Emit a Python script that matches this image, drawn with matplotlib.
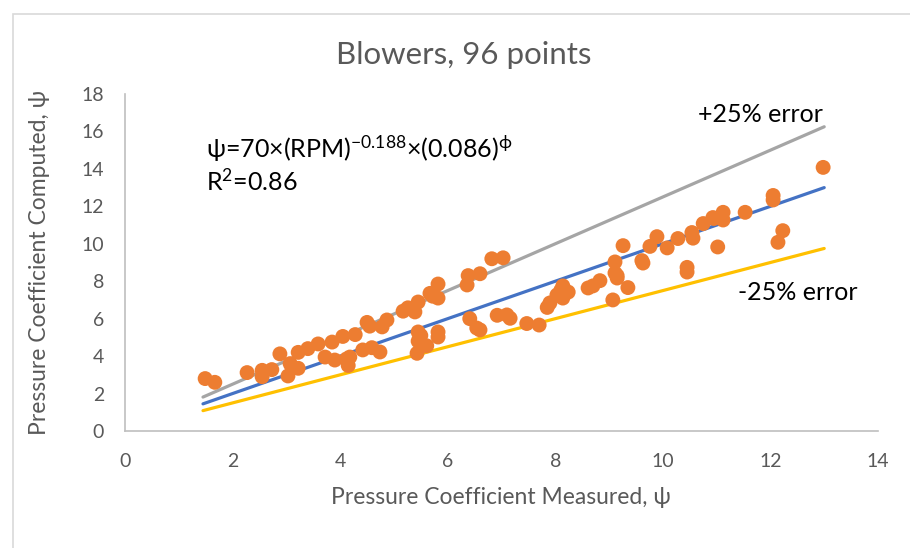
import matplotlib
matplotlib.use("Agg")
import matplotlib.pyplot as plt
from matplotlib.patches import Rectangle

plt.rcParams['font.family'] = ['Lato', 'DejaVu Sans']
plt.rcParams['mathtext.default'] = 'regular'

# measured vs computed pressure coefficient
psi_measured = [1.49, 1.67, 2.27, 2.55, 2.55, 2.73, 2.88, 3.03, 3.07, 3.22,
                3.22, 3.40, 3.59, 3.72, 3.85, 3.90, 4.05, 4.15, 4.18, 4.28,
                4.50, 4.42, 4.59, 4.74, 4.78, 4.87, 5.17, 5.26, 5.39, 5.45,
                5.45, 5.45, 5.61, 5.43, 5.82, 5.82, 5.67, 5.82, 5.82, 6.36,
                6.38, 6.60, 6.41, 6.54, 6.82, 7.03, 6.92, 7.10, 7.16, 7.47,
                7.70, 7.90, 8.03, 8.14, 8.14, 8.24, 8.61, 8.83, 9.07, 9.26,
                9.11, 9.11, 9.15, 9.35, 9.61, 9.63, 9.76, 9.89, 10.08, 10.28,
                10.45, 10.45, 10.54, 10.56, 10.75, 10.93, 11.02, 11.12, 11.12, 11.53,
                12.05, 12.05, 12.23, 12.14, 12.98, 4.55, 6.60, 5.72, 7.85, 8.10,
                8.70, 4.12, 3.10, 5.50, 9.15, 10.95]
psi_computed = [2.80, 2.60, 3.12, 3.24, 2.90, 3.28, 4.12, 2.94, 3.60, 3.35,
                4.20, 4.40, 4.65, 3.95, 4.75, 3.79, 5.05, 3.50, 3.95, 5.15,
                5.80, 4.33, 4.45, 4.22, 5.56, 5.93, 6.40, 6.58, 6.36, 6.89,
                5.29, 4.80, 4.55, 4.15, 5.29, 5.02, 7.35, 7.85, 7.10, 7.80,
                8.30, 8.40, 6.00, 5.50, 9.20, 9.25, 6.18, 6.20, 6.02, 5.74,
                5.66, 6.84, 7.26, 7.75, 7.10, 7.42, 7.64, 8.03, 7.00, 9.90,
                9.03, 8.44, 8.17, 7.66, 9.10, 8.97, 9.86, 10.38, 9.78, 10.28,
                8.74, 8.49, 10.60, 10.30, 11.08, 11.40, 9.83, 11.68, 11.27, 11.68,
                12.58, 12.34, 10.70, 10.08, 14.08, 5.60, 5.40, 7.20, 6.60, 7.50,
                7.75, 3.85, 3.45, 5.10, 8.30, 11.35]

line_x = [1.45, 13.0]
line_ratio = {'+25%': 1.25, 'fit': 1.0, '-25%': 0.75}
line_color = {'+25%': '#A5A5A5', 'fit': '#4472C4', '-25%': '#FFC000'}

fig = plt.figure(figsize=(9.1, 5.48), dpi=100)
ax = fig.add_axes([125 / 910, 1 - 431 / 548, 753 / 910, 337 / 548])

# outer chart border
fig.patches.append(Rectangle((13 / 910, -0.1), 1.2, 1 - 14 / 548 + 0.1,
                             transform=fig.transFigure, fill=False,
                             edgecolor='#D9D9D9', linewidth=1.2))

for key in ['+25%', 'fit', '-25%']:
    r = line_ratio[key]
    ax.plot(line_x, [v * r for v in line_x], color=line_color[key], lw=2.3,
            solid_capstyle='round', zorder=2)

ax.scatter(psi_measured, psi_computed, s=115, color='#ED7D31', edgecolors='none',
           zorder=3)

ax.set_xlim(0, 14)
ax.set_ylim(0, 18)
ax.set_xticks(range(0, 15, 2))
ax.set_yticks(range(0, 19, 2))
ax.tick_params(length=0, labelsize=14, labelcolor='#595959')
ax.tick_params(axis='x', pad=16)
ax.tick_params(axis='y', pad=15)
for side in ['top', 'right']:
    ax.spines[side].set_visible(False)
for side in ['left', 'bottom']:
    ax.spines[side].set_color('#BFBFBF')
    ax.spines[side].set_linewidth(1.2)

fig.text(464 / 910, 1 - 55 / 548, 'Blowers, 96 points', ha='center', va='center',
         fontsize=22.5, color='#595959')
fig.text(501 / 910, 1 - 497 / 548, 'Pressure Coefficient Measured, ψ', ha='center',
         va='center', fontsize=16.5, color='#595959')
fig.text(40 / 910, 1 - 262 / 548, 'Pressure Coefficient Computed, ψ', ha='center',
         va='center', fontsize=16.5, color='#595959', rotation=90)

ax.text(1.5, 15.1, 'ψ=70×(RPM)$^{-0.188}$×(0.086)$^{ϕ}$', fontsize=18,
        color='black', va='center')
ax.text(1.5, 13.35, 'R$^{2}$=0.86', fontsize=18, color='black', va='center')
ax.text(10.65, 16.9, '+25% error', fontsize=18, color='black', va='center')
ax.text(11.4, 7.4, '-25% error', fontsize=18, color='black', va='center')

fig.savefig('out.png', dpi=100)
